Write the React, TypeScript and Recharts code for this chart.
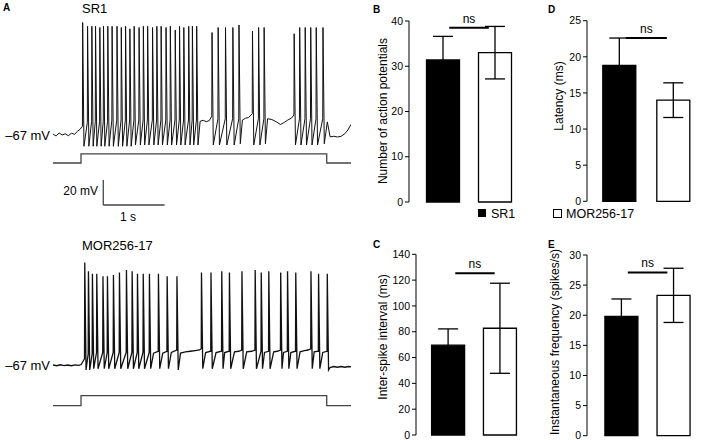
import React from "react";
import {
  BarChart,
  Bar,
  Cell,
  XAxis,
  YAxis,
  ErrorBar,
  ReferenceLine,
  LineChart,
  Line,
} from "recharts";

const FONT = '"Liberation Sans", Arial, Helvetica, sans-serif';

// groups shared by all bar panels
const groups = ["SR1", "MOR256-17"];
const groupFills = ["#000000", "#ffffff"];

// B: number of action potentials
const apCount = [31.4, 33.0];
const apCountErr = [5.2, 5.8];
const apTicks = [0, 10, 20, 30, 40];

// C: inter-spike interval (ms)
const isi = [69.6, 82.7];
const isiErr = [12.6, 34.9];
const isiTicks = [0, 20, 40, 60, 80, 100, 120, 140];

// D: latency (ms)
const latency = [18.8, 14.0];
const latencyErr = [3.8, 2.4];
const latencyTicks = [0, 5, 10, 15, 20, 25];

// E: instantaneous frequency (spikes/s)
const freq = [19.8, 23.3];
const freqErr = [2.9, 4.5];
const freqTicks = [0, 5, 10, 15, 20, 25, 30];

// A: spikes as [time s, threshold mV, peak mV, AHP trough mV]
const sr1Spikes = [
  [0.48, -60, 23, -76], [0.56, -57, 20, -76], [0.63, -56, 20, -76],
  [0.69, -56, 20, -76], [0.76, -56, 19, -76], [0.82, -56, 20, -76],
  [0.89, -56, 20, -76], [0.96, -55, 20, -76], [1.04, -55, 20, -76],
  [1.11, -55, 19, -76], [1.18, -55, 20, -76], [1.25, -55, 18, -76],
  [1.32, -55, 20, -75], [1.4, -55, 19, -75], [1.47, -55, 20, -75],
  [1.54, -55, 20, -75], [1.62, -55, 19, -75], [1.69, -55, 20, -75],
  [1.76, -55, 20, -75], [1.84, -55, 19, -75], [1.91, -55, 20, -75],
  [1.99, -55, 17, -75], [2.06, -55, 20, -75], [2.13, -55, 19, -75],
  [2.21, -55, 20, -75], [2.27, -55, 20, -75], [2.34, -55, 20, -75],
  [2.59, -52, 15, -75], [2.69, -54, 19, -75], [2.81, -54, 19, -75],
  [2.93, -54, 19, -75], [3.03, -54, 21, -74],
  [3.25, -50, 16, -75], [3.35, -54, 19, -75], [3.44, -54, 19, -74],
  [3.93, -51, 14, -75], [4.02, -54, 19, -75], [4.11, -54, 19, -75],
  [4.2, -54, 19, -75], [4.29, -54, 19, -75], [4.4, -54, 19, -74],
];

// subthreshold samples between spikes: [time s, mV]
const sr1Quiet = [
  [0, -66.2], [0.05, -67.8], [0.1, -65.4], [0.15, -67], [0.2, -66],
  [0.25, -67.6], [0.3, -65.6], [0.35, -66.4], [0.4, -64], [0.44, -62.5],
  [2.4, -56], [2.45, -55.2], [2.5, -56.4], [2.55, -55.4],
  [3.09, -55], [3.14, -53.6], [3.19, -53], [3.23, -51],
  [3.5, -54], [3.57, -54.6], [3.64, -56.4], [3.71, -58.6], [3.77, -57],
  [3.83, -55], [3.89, -53.5],
  [4.475, -56.5], [4.52, -68.5], [4.58, -68], [4.64, -68.6], [4.7, -68],
  [4.76, -66], [4.81, -63], [4.861, -58.5],
];

const morSpikes = [
  [0.514, -62, 15, -71], [0.574, -58, 8, -71], [0.639, -58, 6, -70],
  [0.71, -57, 6, -70], [0.811, -57, 4, -70], [0.884, -57, 4, -70],
  [0.982, -57, 5, -70], [1.08, -57, 7, -70], [1.194, -57, 9, -70],
  [1.287, -57, 8, -70], [1.374, -57, 6, -70], [1.468, -57, 6, -70],
  [1.569, -57, 6, -70], [1.716, -56, 6, -70], [1.858, -56, 4, -70],
  [2.018, -55, 4, -71],
  [2.418, -54, 7, -70], [2.573, -56, 7, -70], [2.749, -56, 8, -70],
  [2.874, -56, 7, -70], [3.078, -55, 8, -70], [3.294, -55, 9, -70],
  [3.393, -56, 7, -70], [3.516, -56, 8, -70], [3.71, -55, 7, -70],
  [3.822, -56, 8, -70], [3.956, -56, 7, -70], [4.204, -54, 8, -70],
  [4.328, -56, 6, -70], [4.47, -56, 6, -71],
];

const morQuiet = [
  [0, -67], [0.06, -67.6], [0.12, -66.8], [0.18, -67.5], [0.24, -67],
  [0.3, -67.6], [0.36, -66.9], [0.42, -67.3], [0.46, -66.6], [0.49, -64],
  [1.64, -57.5], [1.79, -57.5], [1.93, -57],
  [2.08, -57.5], [2.16, -56.5], [2.24, -56], [2.32, -55.5], [2.39, -55],
  [2.49, -57], [2.66, -57], [2.8, -57], [2.96, -56.5], [3.03, -56],
  [3.16, -56.5], [3.24, -56], [3.45, -57], [3.6, -56.5], [3.66, -56],
  [3.76, -57], [3.88, -57], [4.03, -56.5], [4.1, -55.5], [4.16, -55],
  [4.26, -56.5], [4.4, -57],
  [4.52, -69], [4.58, -68.2], [4.64, -68.8], [4.7, -68.2], [4.76, -68.8],
  [4.82, -68.2], [4.861, -68.5],
];

// current step (0 = off, 1 = on)
const stimTimes = [0, 0.457, 0.457, 4.465, 4.465, 4.861];
const stimLevels = [0, 0, 1, 1, 0, 0];

function buildTrace(spikes: number[][], quiet: number[][]) {
  const pts = quiet.map(([t, v]) => ({ t, v }));
  spikes.forEach(([t, thr, pk, tr]) => {
    pts.push({ t, v: thr }, { t: t + 0.004, v: pk }, { t: t + 0.025, v: tr });
  });
  return pts.sort((a, b) => a.t - b.t);
}

const stimData = stimTimes.map((t, i) => ({ t, i: stimLevels[i] }));

function Txt({ x, y, children, size = 12, anchor = "start", bold = false, rotate = false }: any) {
  const tx = anchor === "start" ? "0" : anchor === "middle" ? "-50%" : "-100%";
  return (
    <div
      style={{
        position: "absolute",
        left: x,
        top: y,
        transform: rotate ? "translate(-50%, -50%) rotate(-90deg)" : `translate(${tx}, -50%)`,
        fontSize: size,
        fontWeight: bold ? 700 : 400,
        lineHeight: 1,
        whiteSpace: "nowrap",
        color: "#000",
      }}
    >
      {children}
    </div>
  );
}

function Trace({ data, top, height, vDomain, iDomain, strokeWidth, scaleBar }: any) {
  return (
    <div style={{ position: "absolute", left: 53, top }}>
      <LineChart width={298} height={height} margin={{ top: 0, right: 0, bottom: 0, left: 0 }}>
        <XAxis type="number" dataKey="t" domain={[0, 4.861]} hide allowDataOverflow />
        <YAxis yAxisId="v" type="number" domain={vDomain} hide allowDataOverflow />
        <YAxis yAxisId="i" type="number" domain={iDomain} hide allowDataOverflow />
        <Line
          yAxisId="v"
          data={data}
          dataKey="v"
          type="linear"
          stroke="#111"
          strokeWidth={strokeWidth}
          dot={false}
          isAnimationActive={false}
        />
        <Line
          yAxisId="i"
          data={stimData}
          dataKey="i"
          type="linear"
          stroke="#444"
          strokeWidth={1.3}
          dot={false}
          isAnimationActive={false}
        />
        {scaleBar && (
          <ReferenceLine
            yAxisId="v"
            segment={[{ x: 0.82, y: -103 }, { x: 0.82, y: -123 }]}
            stroke="#444"
            strokeWidth={1.3}
          />
        )}
        {scaleBar && (
          <ReferenceLine
            yAxisId="v"
            segment={[{ x: 0.82, y: -123 }, { x: 1.82, y: -123 }]}
            stroke="#444"
            strokeWidth={1.3}
          />
        )}
      </LineChart>
    </div>
  );
}

function BarPanel({ values, errors, ticks, nsY, left, top, width, height, margin, yw, padL, padR }: any) {
  const rows = groups.map((g, i) => ({ group: g, value: values[i], err: errors[i] }));
  const plotW = width - margin.left - margin.right - yw;
  const band = (plotW - padL - padR) / 2;
  return (
    <div style={{ position: "absolute", left, top }}>
      <BarChart width={width} height={height} data={rows} margin={margin} barSize={33}>
        <XAxis
          xAxisId="cat"
          dataKey="group"
          type="category"
          tick={false}
          tickLine={false}
          axisLine={{ stroke: "#000" }}
          height={0}
          padding={{ left: padL, right: padR }}
        />
        <XAxis
          xAxisId="pos"
          type="number"
          domain={[0, 1]}
          hide
          allowDataOverflow
          padding={{ left: padL + band / 2, right: padR + band / 2 }}
        />
        <YAxis
          type="number"
          domain={[0, ticks[ticks.length - 1]]}
          ticks={ticks}
          interval={0}
          width={yw}
          tickSize={4}
          tickMargin={2}
          tick={{ fontSize: 10.5, fill: "#000", fontFamily: FONT }}
          tickLine={{ stroke: "#000" }}
          axisLine={{ stroke: "#000" }}
        />
        <Bar xAxisId="cat" dataKey="value" stroke="#000" strokeWidth={1.3} isAnimationActive={false}>
          {rows.map((r, i) => (
            <Cell key={r.group} fill={groupFills[i]} />
          ))}
          <ErrorBar dataKey="err" width={10} stroke="#000" strokeWidth={1.3} />
        </Bar>
        <ReferenceLine
          xAxisId="pos"
          segment={[{ x: 0.13, y: nsY }, { x: 0.89, y: nsY }]}
          stroke="#000"
          strokeWidth={2}
          label={{ value: "ns", position: "top", offset: 5, fontSize: 12, fill: "#000", fontFamily: FONT }}
        />
      </BarChart>
    </div>
  );
}

export default function App() {
  const sr1Trace = buildTrace(sr1Spikes, sr1Quiet);
  const morTrace = buildTrace(morSpikes, morQuiet);
  return (
    <div
      style={{
        position: "absolute",
        left: 0,
        top: 0,
        width: 709,
        height: 440,
        background: "#fff",
        fontFamily: FONT,
        overflow: "hidden",
      }}
    >
      {/* A: voltage traces */}
      <Txt x={3} y={8} size={10} bold>A</Txt>
      <Txt x={82} y={8} size={13}>SR1</Txt>
      <Txt x={50} y={135} size={13} anchor="end">–67 mV</Txt>
      <Trace data={sr1Trace} top={15} height={200} vDomain={[-131, 29]} iDomain={[-5.78, 16.44]} strokeWidth={1} scaleBar />
      <Txt x={98} y={191} size={12} anchor="end">20 mV</Txt>
      <Txt x={128} y={217} size={12} anchor="middle">1 s</Txt>

      <Txt x={82} y={245} size={13}>MOR256-17</Txt>
      <Txt x={50} y={365} size={13} anchor="end">–67 mV</Txt>
      <Trace data={morTrace} top={255} height={160} vDomain={[-107, 21]} iDomain={[-0.93, 15.07]} strokeWidth={1.3} />

      {/* B */}
      <Txt x={373} y={10} size={10} bold>B</Txt>
      <BarPanel
        values={apCount} errors={apCountErr} ticks={apTicks} nsY={38.5}
        left={340} top={0} width={200} height={215}
        margin={{ top: 21, right: 10, bottom: 13, left: 0 }} yw={69} padL={7.5} padR={9.5}
      />
      <Txt x={383} y={111} size={12} rotate>Number of action potentials</Txt>

      {/* D */}
      <Txt x={548} y={10} size={10} bold>D</Txt>
      <BarPanel
        values={latency} errors={latencyErr} ticks={latencyTicks} nsY={22.6}
        left={535} top={0} width={174} height={215}
        margin={{ top: 20.7, right: 2, bottom: 13.7, left: 0 }} yw={52} padL={4.8} padR={7.2}
      />
      <Txt x={559} y={96} size={12} rotate>Latency (ms)</Txt>

      {/* legend */}
      <div style={{ position: "absolute", left: 478, top: 209, width: 8, height: 8, background: "#000" }} />
      <Txt x={491} y={213.5} size={12.5}>SR1</Txt>
      <div style={{ position: "absolute", left: 553, top: 209, width: 7, height: 7, border: "1px solid #000", background: "#fff" }} />
      <Txt x={566} y={213.5} size={12.5}>MOR256-17</Txt>

      {/* C */}
      <Txt x={373} y={245} size={10} bold>C</Txt>
      <BarPanel
        values={isi} errors={isiErr} ticks={isiTicks} nsY={125.3}
        left={340} top={220} width={200} height={220}
        margin={{ top: 34.3, right: 6, bottom: 5, left: 0 }} yw={76} padL={6.6} padR={7.7}
      />
      <Txt x={383} y={337} size={12} rotate>Inter-spike interval (ms)</Txt>

      {/* E */}
      <Txt x={548} y={245} size={10} bold>E</Txt>
      <BarPanel
        values={freq} errors={freqErr} ticks={freqTicks} nsY={27.1}
        left={535} top={220} width={174} height={220}
        margin={{ top: 35, right: 2, bottom: 4.3, left: 0 }} yw={52} padL={7.9} padR={7.8}
      />
      <Txt x={555} y={342} size={12} rotate>Instantaneous frequency (spikes/s)</Txt>
    </div>
  );
}
